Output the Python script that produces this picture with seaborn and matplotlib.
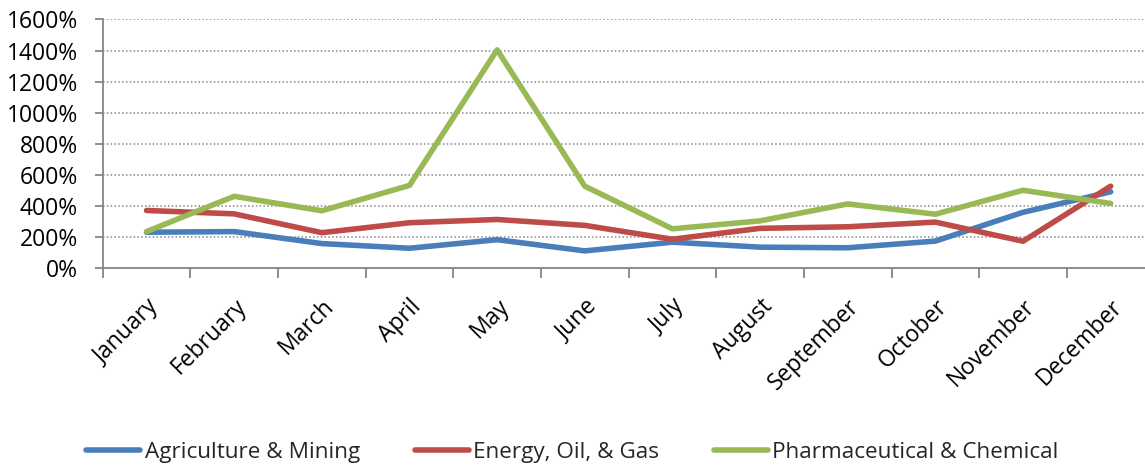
import matplotlib
matplotlib.use("Agg")
import matplotlib.pyplot as plt
from matplotlib.ticker import FixedLocator, FuncFormatter
import seaborn as sns
import pandas as pd

months = ["January", "February", "March", "April", "May", "June", "July",
          "August", "September", "October", "November", "December"]
series_names = ["Agriculture & Mining", "Energy, Oil, & Gas", "Pharmaceutical & Chemical"]
agriculture = [232, 236, 159, 129, 184, 112, 168, 136, 132, 175, 360, 492]
energy = [372, 350, 229, 293, 314, 276, 187, 257, 267, 297, 174, 528]
pharma = [236, 463, 370, 533, 1405, 528, 254, 305, 414, 348, 502, 417]
y_ticks = [0, 200, 400, 600, 800, 1000, 1200, 1400, 1600]
colors = ["#4A7EBB", "#BE4B48", "#98B954"]

df = pd.DataFrame({
    "Month": months * 3,
    "Value": agriculture + energy + pharma,
    "Series": [series_names[0]] * 12 + [series_names[1]] * 12 + [series_names[2]] * 12,
})

sns.set_theme(style="white")
plt.rcParams["font.family"] = ["Open Sans", "DejaVu Sans"]
FS = 16.5
LFS = 16.2

fig = plt.figure(figsize=(11.45, 4.65), dpi=100)
ax = fig.add_axes([102.7 / 1145, 196.7 / 465, 1051.8 / 1145, 248.8 / 465])

sns.lineplot(data=df, x="Month", y="Value", hue="Series", palette=colors,
             linewidth=4, sort=False, ax=ax, legend=True)

ax.set_xlim(-0.5, 11.5)
ax.set_ylim(0, 1600)
ax.set_xlabel("")
ax.set_ylabel("")

grey = "#868686"
for s in ["top", "right"]:
    ax.spines[s].set_visible(False)
for s in ["left", "bottom"]:
    ax.spines[s].set_color(grey)
    ax.spines[s].set_linewidth(1.3)

ax.yaxis.set_major_locator(FixedLocator(y_ticks))
ax.yaxis.set_major_formatter(FuncFormatter(lambda v, p: f"{v:.0f}%"))
ax.tick_params(axis="y", which="major", direction="out", length=6, width=1.3,
               color=grey, labelsize=FS, pad=12, left=True, labelcolor="black")
ax.grid(axis="y", color=grey, linestyle=(0, (1, 1.5)), linewidth=1.1)
ax.grid(axis="x", visible=False)

ax.set_xticks(range(12))
ax.set_xticklabels(months, rotation=45, ha="right", rotation_mode="anchor", fontsize=FS)
ax.tick_params(axis="x", which="major", length=0, pad=19, labelcolor="black")
ax.set_xticks([i - 0.5 for i in range(13)], minor=True)
ax.tick_params(axis="x", which="minor", direction="out", length=7, width=1.3,
               color=grey, bottom=True)

handles, labels = ax.get_legend_handles_labels()
ax.get_legend().remove()
fig.legend(handles, labels, loc="center", bbox_to_anchor=(0.5, 0.027), ncol=3,
           frameon=False, fontsize=LFS, handlelength=2.4, handletextpad=0.18,
           columnspacing=2.45)

fig.savefig("out.png", dpi=100)
